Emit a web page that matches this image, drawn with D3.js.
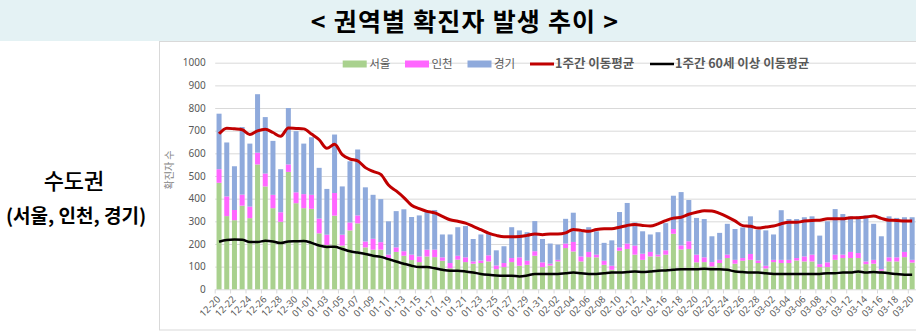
<!DOCTYPE html>
<html><head><meta charset="utf-8">
<script src="https://cdn.jsdelivr.net/npm/d3@7"></script>
<style>
body{margin:0;background:#fff;}
svg{display:block;font-family:"Noto Sans CJK KR","Noto Sans",sans-serif;}
</style></head><body>
<svg id="c" width="916" height="333"></svg>
<script>
const dates = ["12-20","12-21","12-22","12-23","12-24","12-25","12-26","12-27","12-28","12-29","12-30","12-31",
"01-01","01-02","01-03","01-04","01-05","01-06","01-07","01-08","01-09","01-10","01-11","01-12","01-13","01-14","01-15","01-16","01-17","01-18","01-19","01-20","01-21","01-22","01-23","01-24","01-25","01-26","01-27","01-28","01-29","01-30","01-31",
"02-01","02-02","02-03","02-04","02-05","02-06","02-07","02-08","02-09","02-10","02-11","02-12","02-13","02-14","02-15","02-16","02-17","02-18","02-19","02-20","02-21","02-22","02-23","02-24","02-25","02-26","02-27","02-28",
"03-01","03-02","03-03","03-04","03-05","03-06","03-07","03-08","03-09","03-10","03-11","03-12","03-13","03-14","03-15","03-16","03-17","03-18","03-19","03-20"];
const seoul = [470,323,305,369,314,551,454,358,298,518,380,358,355,247,196,325,193,260,291,185,
175,175,138,165,148,129,120,145,142,126,93,131,120,113,116,123,89,98,120,104,
108,148,98,105,123,182,167,123,142,141,108,86,170,178,153,130,145,145,153,245,
176,178,119,120,101,116,138,113,126,130,116,92,120,116,116,127,123,123,98,98,
130,138,138,138,111,113,82,123,123,142,118];
const incheon = [60,87,45,49,51,52,57,59,42,33,48,62,62,65,45,100,48,35,35,26,
48,33,15,20,20,24,25,30,33,15,23,17,21,10,11,27,16,18,18,37,
18,20,21,8,7,20,42,22,23,12,18,18,15,24,40,27,20,8,19,21,
18,34,34,21,19,14,15,17,12,26,11,12,10,14,14,11,22,30,13,21,
23,15,27,22,12,17,7,18,18,23,12];
const gyeonggi = [245,238,193,298,278,258,249,238,190,249,270,223,254,224,202,258,213,270,291,239,
194,190,147,160,185,166,181,166,175,101,126,126,138,99,115,96,67,74,136,119,
126,133,103,89,67,109,129,108,109,103,79,112,156,179,102,99,77,99,120,147,
235,182,162,169,114,119,136,136,135,166,136,156,112,219,180,172,173,169,126,181,
201,179,157,162,203,159,145,181,174,153,188];
const ma7 = [686,711,708,704,683,699,706,692,675,712,710,708,685,660,622,640,594,575,567,537,
520,507,460,434,405,371,356,344,337,322,307,300,292,278,263,248,238,232,232,233,
238,244,241,244,244,249,264,260,256,264,267,267,274,282,286,282,279,289,303,314,
318,331,340,347,346,335,320,302,281,278,270,275,279,289,296,296,301,304,305,311,
311,311,316,316,319,323,313,305,304,301,301];
const ma7Over60 = [210,218,220,219,209,209,214,211,204,211,212,213,205,193,187,188,178,168,162,156,
148,143,133,123,113,104,98,98,93,86,82,82,79,74,68,64,61,60,60,57,
61,68,67,67,68,71,74,71,68,68,71,74,74,76,79,76,79,82,83,86,
89,89,89,91,89,89,86,79,76,74,74,71,68,67,67,67,68,68,68,71,
71,74,74,79,74,76,74,71,67,64,64];
const yTicks = [0,100,200,300,400,500,600,700,800,900,1000];
const seriesNames = ["서울","인천","경기"];
const lineNames = ["1주간 이동평균","1주간 60세 이상 이동평균"];
const titleText = "< 권역별 확진자 발생 추이 >";
const regionName = "수도권";
const regionSub = "(서울, 인천, 경기)";
const yTitle = "확진자 수";

const colors = {"서울":"#a9d18e","인천":"#ff66ff","경기":"#8faadc"};
const svg = d3.select("#c");

// title band
svg.append("rect").attr("x",0).attr("y",0).attr("width",916).attr("height",41).attr("fill","#e4f2f4");
svg.append("text").attr("x",465).attr("y",31).attr("text-anchor","middle")
  .attr("font-size",25).attr("font-weight",700).attr("letter-spacing",1.2).attr("fill","#000").text(titleText);
// panel
svg.append("rect").attr("x",159.5).attr("y",41.5).attr("width",800).attr("height",288.5)
  .attr("fill","#fff").attr("stroke","#d9d9d9").attr("stroke-width",1);
// left labels
svg.append("text").attr("x",74).attr("y",189).attr("text-anchor","middle")
  .attr("font-size",22).attr("font-weight",500).attr("fill","#000").text(regionName);
svg.append("text").attr("x",76).attr("y",223).attr("text-anchor","middle")
  .attr("font-size",19).attr("font-weight",700).attr("fill","#000").text(regionSub);

const x0 = 215.2, x1 = 916;
const x = d3.scaleBand().domain(dates).range([x0,x1]).paddingInner(0.35).paddingOuter(0.175);
const y = d3.scaleLinear().domain([0,1000]).range([289.3,62.7]);

// gridlines + y labels
const yAxis = d3.axisLeft(y).tickValues(yTicks).tickSize(-(x1-x0)).tickPadding(9.5).tickFormat(d3.format("d"));
const gy = svg.append("g").attr("transform",`translate(${x0},0)`).call(yAxis);
gy.select(".domain").remove();
gy.selectAll(".tick line").attr("stroke","#d9d9d9");
gy.selectAll(".tick text").attr("fill","#595959").attr("font-size",10).attr("font-family","'Noto Sans',sans-serif");

// y title
svg.append("text").attr("transform","translate(173,170) rotate(-90)").attr("text-anchor","middle")
  .attr("font-size",10).attr("fill","#7f7f7f").text(yTitle);

// stacked bars
const table = dates.map((d,i)=>({date:d,"서울":seoul[i],"인천":incheon[i],"경기":gyeonggi[i]}));
const stack = d3.stack().keys(seriesNames)(table);
svg.append("g").selectAll("g").data(stack).join("g").attr("fill",s=>colors[s.key])
  .selectAll("rect").data(s=>s).join("rect")
  .attr("x",d=>x(d.data.date)).attr("width",x.bandwidth())
  .attr("y",d=>y(d[1])).attr("height",d=>y(d[0])-y(d[1]));

// x ticks at boundaries every 2 categories
const step = x.step();
const bounds = d3.range(0,dates.length+1,2).map(k=>x0+k*step);
svg.append("g").selectAll("line").data(bounds).join("line")
  .attr("x1",d=>d).attr("x2",d=>d).attr("y1",289.3).attr("y2",293.5).attr("stroke","#d9d9d9");
// x labels
const labelDates = dates.filter((d,i)=>i%2===0);
svg.append("g").selectAll("text").data(labelDates).join("text")
  .attr("transform",d=>`translate(${x(d)+x.bandwidth()/2+2},${300}) rotate(-45)`)
  .attr("text-anchor","end").attr("font-size",9.5).attr("fill","#595959")
  .attr("font-family","'Noto Sans',sans-serif").text(d=>d);

// lines
const line = d3.line().x((d,i)=>x(dates[i])+x.bandwidth()/2).y(d=>y(d)).curve(d3.curveMonotoneX);
svg.append("path").datum(ma7).attr("d",line).attr("fill","none").attr("stroke","#c00000").attr("stroke-width",3);
svg.append("path").datum(ma7Over60).attr("d",line).attr("fill","none").attr("stroke","#000").attr("stroke-width",2.5);

// legend
const lg = svg.append("g").attr("font-size",11.5).attr("fill","#595959");
const sw = [[342.7,"서울"],[405,"인천"],[467.5,"경기"]];
sw.forEach(([lx,k])=>{
  lg.append("rect").attr("x",lx).attr("y",60.5).attr("width",24).attr("height",7).attr("fill",colors[k]);
  lg.append("text").attr("x",lx+26.5).attr("y",68).text(k);
});
const ll = [[530,"#c00000",3,lineNames[0]],[650,"#000",2.5,lineNames[1]]];
ll.forEach(([lx,c,w,t])=>{
  lg.append("line").attr("x1",lx).attr("x2",lx+24).attr("y1",64).attr("y2",64).attr("stroke",c).attr("stroke-width",w);
  lg.append("text").attr("x",lx+25).attr("y",68).attr("font-size",12.5).attr("font-weight",700).text(t);
});
</script>
</body></html>
